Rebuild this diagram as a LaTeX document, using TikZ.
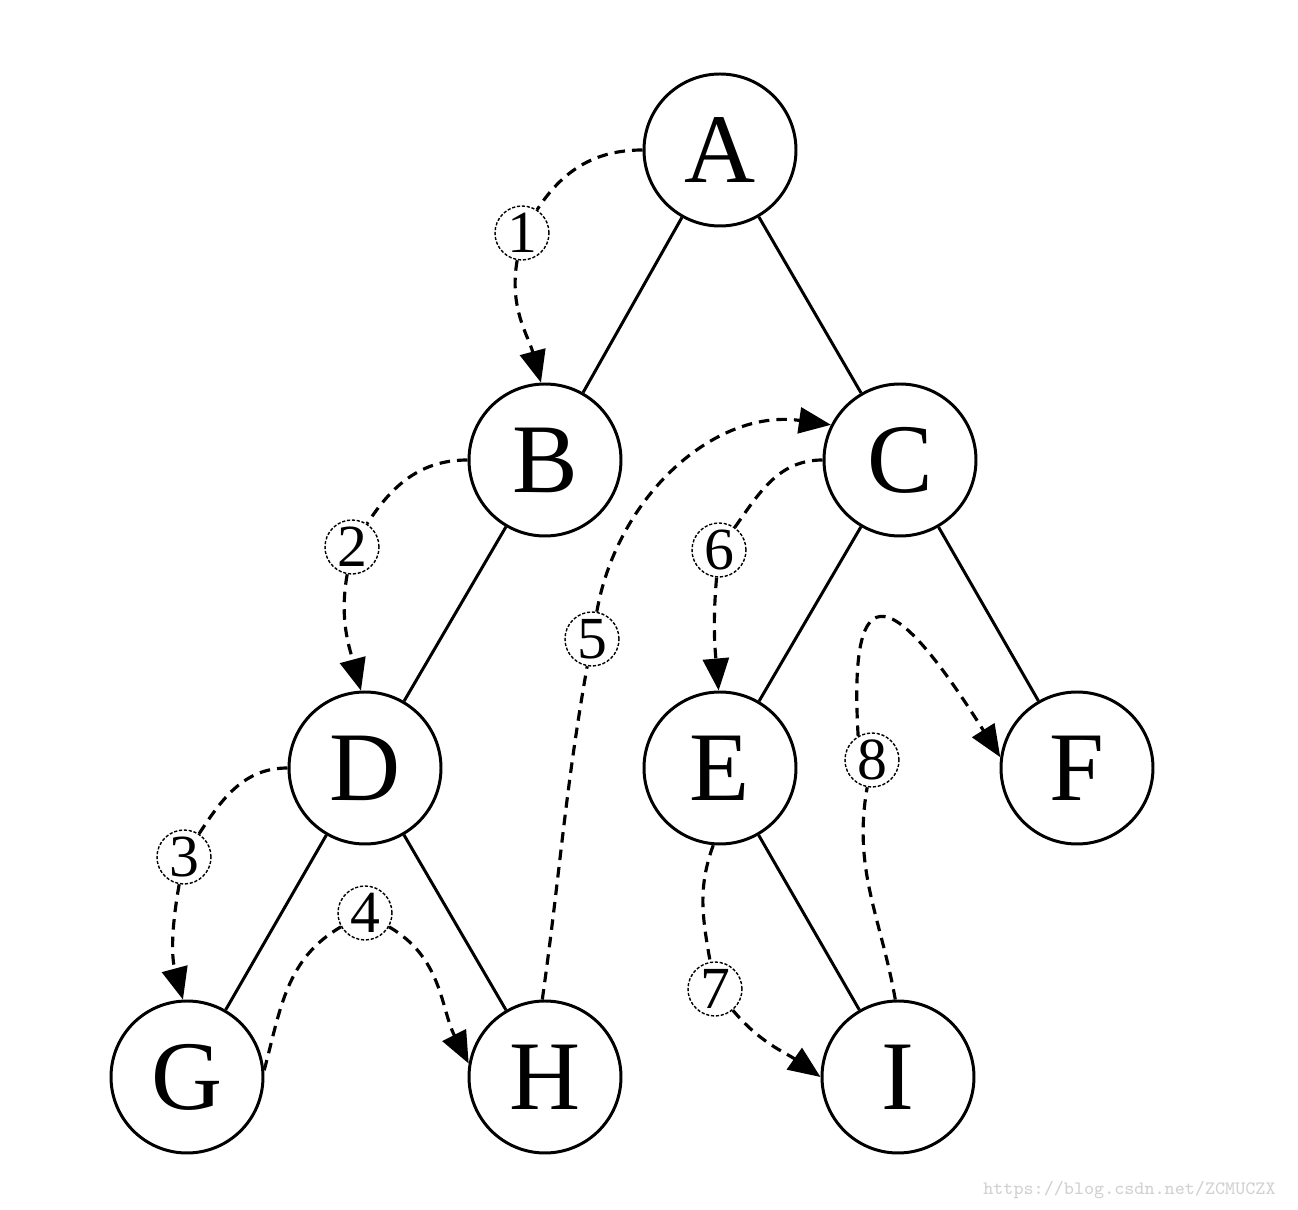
\documentclass[tikz,border=0pt]{standalone}
\usepackage{fontspec}
\setmainfont{Liberation Serif}
\usetikzlibrary{
    arrows.meta
}
\tikzset{
  vert/.style={
    draw,
    circle,
    line width=0.85pt,
    minimum size=1.52cm,
    inner sep=0pt,
    font=\fontsize{28}{30}\selectfont
  },
  num/.style={
    draw,
    circle,
    dash pattern=on 0.9pt off 0.5pt,
    line width=0.4pt,
    minimum size=0.54cm,
    inner sep=0pt,
    font=\fontsize{17}{18}\selectfont
  },
  trav/.style={
    line width=0.9pt,
    dash pattern=on 3pt off 2pt
  },
  travto/.style={
    trav,
    -{Triangle[length=0.32cm,width=0.26cm]}
  }
}

\begin{document}
\begin{tikzpicture}
    \useasboundingbox (0,0) rectangle (12.98,-12.10);
    %-------------------------
    %nodes
    %-------------------------
    \node[vert] (A) at (7.20,-1.50) {A};
    \node[vert] (B) at (5.45,-4.60) {B};
    \node[vert] (C) at (9.00,-4.60) {C};
    \node[vert] (D) at (3.65,-7.68) {D};
    \node[vert] (E) at (7.20,-7.68) {E};
    \node[vert] (F) at (10.77,-7.68) {F};
    \node[vert] (G) at (1.87,-10.77) {G};
    \node[vert] (H) at (5.45,-10.77) {H};
    \node[vert] (I) at (8.98,-10.77) {I};

    \draw[line width=0.85pt] (A) -- (B);
    \draw[line width=0.85pt] (A) -- (C);
    \draw[line width=0.85pt] (B) -- (D);
    \draw[line width=0.85pt] (C) -- (E);
    \draw[line width=0.85pt] (C) -- (F);
    \draw[line width=0.85pt] (D) -- (G);
    \draw[line width=0.85pt] (D) -- (H);
    \draw[line width=0.85pt] (E) -- (I);

    %-------------------------
    %order labels
    %-------------------------
    \node[num] (n1) at (5.22,-2.33) {1};
    \node[num] (n2) at (3.52,-5.47) {2};
    \node[num] (n3) at (1.84,-8.57) {3};
    \node[num] (n4) at (3.65,-9.13) {4};
    \node[num] (n5) at (5.92,-6.39) {5};
    \node[num] (n6) at (7.19,-5.50) {6};
    \node[num] (n7) at (7.15,-9.89) {7};
    \node[num] (n8) at (8.72,-7.60) {8};

    %-------------------------
    %traversal
    %-------------------------
    \draw[trav] (A.180) to[out=180,in=57] (n1);
    \draw[travto] (n1) to[out=-100,in=105] (B.93);
    \draw[trav] (B.180) to[out=180,in=57] (n2);
    \draw[travto] (n2) to[out=-100,in=105] (D.93);
    \draw[trav] (D.180) to[out=180,in=57] (n3);
    \draw[travto] (n3) to[out=-100,in=105] (G.93);
    \draw[trav] (G.5) to[out=75,in=210] (n4);
    \draw[travto] (n4) to[out=-30,in=117] (H.170);
    \draw[trav] (H.92) to[out=82,in=-100] (n5);
    \draw[travto] (n5) to[out=80,in=172] (C.153);
    \draw[trav] (C.180) to[out=180,in=55] (n6);
    \draw[travto] (n6) to[out=-95,in=95] (E.91);
    \draw[trav] (E.265) to[out=-110,in=100] (n7);
    \draw[travto] (n7) to[out=-50,in=145] (I.180);
    \draw[trav] (I.92) to[out=100,in=-100] (n8);
    \draw[travto] (n8.120) .. controls (8.48,-5.65) and (8.95,-5.90) .. (F.172);

    \node[text=black!18,font=\ttfamily\fontsize{5.4}{6}\selectfont,anchor=east] (url) at (12.88,-11.90) {https://blog.csdn.net/ZCMUCZX};

\end{tikzpicture}
\end{document}
